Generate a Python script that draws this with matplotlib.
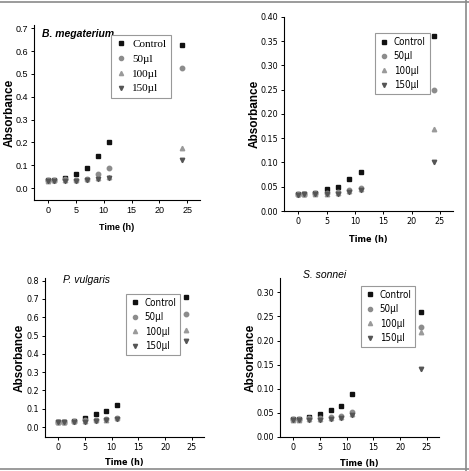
import matplotlib
matplotlib.use("Agg")
import matplotlib.pyplot as plt
from matplotlib import font_manager
from matplotlib.lines import Line2D
from matplotlib.ticker import FormatStrFormatter

# sampling times (h)
time_h = [0, 1, 3, 5, 7, 9, 11, 24]
series_names = ["Control", "50\u00b5l", "100\u00b5l", "150\u00b5l"]

# B. megaterium
bm_control = [0.035, 0.037, 0.045, 0.062, 0.090, 0.140, 0.200, 0.625]
bm_50 = [0.035, 0.037, 0.040, 0.035, 0.040, 0.060, 0.090, 0.525]
bm_100 = [0.033, 0.035, 0.035, 0.035, 0.038, 0.045, 0.050, 0.175]
bm_150 = [0.032, 0.033, 0.032, 0.033, 0.035, 0.038, 0.045, 0.125]

# second (untitled) organism
p2_control = [0.035, 0.036, 0.038, 0.045, 0.050, 0.065, 0.080, 0.360]
p2_50 = [0.035, 0.036, 0.037, 0.038, 0.040, 0.043, 0.048, 0.250]
p2_100 = [0.035, 0.036, 0.036, 0.036, 0.038, 0.041, 0.046, 0.170]
p2_150 = [0.034, 0.035, 0.035, 0.035, 0.036, 0.040, 0.044, 0.100]

# P. vulgaris
pv_control = [0.028, 0.030, 0.033, 0.050, 0.070, 0.090, 0.120, 0.710]
pv_50 = [0.028, 0.030, 0.033, 0.040, 0.040, 0.045, 0.050, 0.620]
pv_100 = [0.027, 0.028, 0.032, 0.035, 0.038, 0.040, 0.048, 0.530]
pv_150 = [0.026, 0.027, 0.030, 0.030, 0.035, 0.038, 0.045, 0.470]

# S. sonnei
ss_control = [0.038, 0.038, 0.042, 0.047, 0.055, 0.065, 0.090, 0.260]
ss_50 = [0.037, 0.037, 0.039, 0.040, 0.042, 0.044, 0.052, 0.227]
ss_100 = [0.036, 0.036, 0.037, 0.038, 0.040, 0.042, 0.048, 0.218]
ss_150 = [0.035, 0.035, 0.036, 0.036, 0.038, 0.040, 0.046, 0.140]

styles = [("s", "#111111"), ("o", "#8c8c8c"), ("^", "#9a9a9a"), ("v", "#555555")]

normal = ["Liberation Sans", "DejaVu Sans"]
serif = ["Liberation Serif", "DejaVu Serif"]
# condensed face for the squashed labels of the last three panels
names = {f.name for f in font_manager.fontManager.ttflist}
narrow_fam = "Liberation Sans Narrow" if "Liberation Sans Narrow" in names else "DejaVu Sans"


def narrow(size, weight="normal"):
    return font_manager.FontProperties(family=narrow_fam, stretch="condensed",
                                       size=size, weight=weight)


fig = plt.figure(figsize=(4.69, 4.71), dpi=100)
fig.patch.set_facecolor("white")

panels = [
    # rect, data, ylim, yticks, fmt, title, title pos, legend pos, condensed?, xlabel y, ylabel x
    ([0.0725, 0.5754, 0.354, 0.372], [bm_control, bm_50, bm_100, bm_150],
     (-0.052, 0.715), [0.0, 0.1, 0.2, 0.3, 0.4, 0.5, 0.6, 0.7], "%.1f",
     "B. megaterium", (0.05, 0.95), (0.464, 0.583), False, -0.13, -0.11),
    ([0.6055, 0.552, 0.3605, 0.412], [p2_control, p2_50, p2_100, p2_150],
     (0.0, 0.40), [0.0, 0.05, 0.10, 0.15, 0.20, 0.25, 0.30, 0.35, 0.40], "%.2f",
     None, None, (0.54, 0.603), True, -0.124, -0.135),
    ([0.096, 0.0722, 0.339, 0.338], [pv_control, pv_50, pv_100, pv_150],
     (-0.054, 0.815), [0.0, 0.1, 0.2, 0.3, 0.4, 0.5, 0.6, 0.7, 0.8], "%.1f",
     "P. vulgaris", (0.113, 0.985), (0.51, 0.516), True, -0.13, -0.12),
    ([0.597, 0.0722, 0.339, 0.338], [ss_control, ss_50, ss_100, ss_150],
     (0.0, 0.33), [0.0, 0.05, 0.10, 0.15, 0.20, 0.25, 0.30], "%.2f",
     "S. sonnei", (0.145, 1.02), (0.51, 0.566), True, -0.138, -0.145),
]

for rect, data, ylim, yticks, fmt, title, tpos, lpos, cond, xly, ylx in panels:
    ax = fig.add_axes(rect)
    for vals, name, (mk, col) in zip(data, series_names, styles):
        ax.plot(time_h, vals, linestyle="none", marker=mk, color=col,
                markersize=3.2, label=name)
    ax.set_xlim(-2.5, 27.3)
    ax.set_ylim(*ylim)
    ax.set_xticks([0, 5, 10, 15, 20, 25])
    ax.set_yticks(yticks)
    ax.yaxis.set_major_formatter(FormatStrFormatter(fmt))
    for s in ["top", "right"]:
        ax.spines[s].set_visible(False)
    for s in ["left", "bottom"]:
        ax.spines[s].set_linewidth(0.8)
    ax.tick_params(direction="out", length=2.5, width=0.7, pad=1.5)
    for lab in ax.get_xticklabels() + ax.get_yticklabels():
        if cond:
            lab.set_fontproperties(narrow(6.5))
        else:
            lab.set_family(normal)
            lab.set_fontsize(6.5)
    if cond:
        ax.set_xlabel("Time (h)", fontproperties=narrow(6.5, "bold"))
        leg_prop = narrow(7)
    else:
        ax.set_xlabel("Time (h)", fontsize=6.5, fontweight="bold", family=normal)
        leg_prop = {"family": serif, "size": 8}
    ax.xaxis.set_label_coords(0.5, xly)
    ax.set_ylabel("Absorbance", fontsize=8.5, fontweight="bold", family=normal)
    ax.yaxis.set_label_coords(ylx, 0.5)
    if title:
        ax.text(tpos[0], tpos[1], title, transform=ax.transAxes, fontsize=7.5,
                style="italic", fontweight="bold" if title.startswith("B") else "normal",
                family=normal, ha="left", va="center")
    handles = [Line2D([], [], linestyle="none", marker=mk, color=col, markersize=3)
               for mk, col in styles]
    leg = ax.legend(handles, series_names, loc="lower left", bbox_to_anchor=lpos,
                    frameon=True, fancybox=False, framealpha=1, edgecolor="#999999",
                    prop=leg_prop, handlelength=1.0, handletextpad=0.5,
                    borderpad=0.4, labelspacing=0.45, borderaxespad=0)
    leg.get_frame().set_linewidth(0.8)

# outer frame lines (top, right, bottom)
frame_col = "#8a8a8a"
fig.add_artist(Line2D([0, 1], [0.996, 0.996], transform=fig.transFigure, color=frame_col, lw=1.2))
fig.add_artist(Line2D([0.994, 0.994], [0.0, 1.0], transform=fig.transFigure, color=frame_col, lw=1.2))
fig.add_artist(Line2D([0, 1], [0.004, 0.004], transform=fig.transFigure, color=frame_col, lw=1.2))

fig.savefig("out.png", dpi=100, facecolor="white")
